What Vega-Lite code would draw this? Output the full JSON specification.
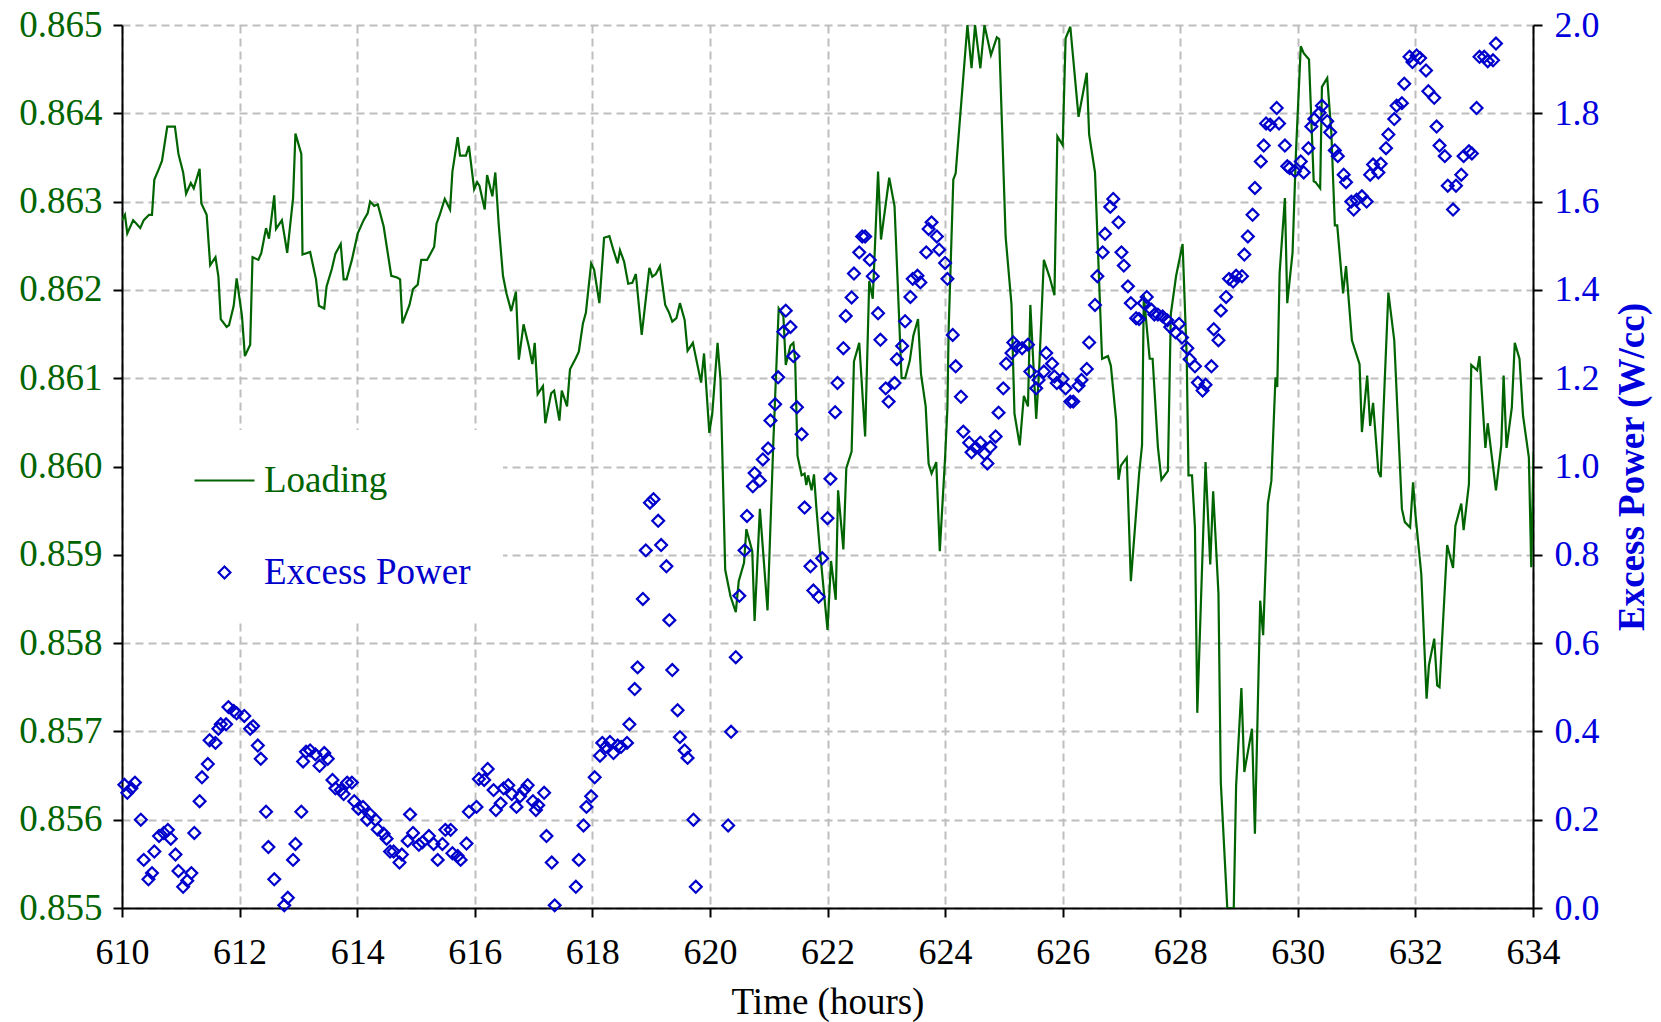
{
  "$schema": "https://vega.github.io/schema/vega-lite/v6.json",
  "width": 1411,
  "height": 883,
  "autosize": {"type": "none"},
  "padding": {"left": 122, "top": 25, "right": 128, "bottom": 114},
  "background": "white",
  "config": {"view": {"stroke": null}, "font": "Liberation Serif"},
  "datasets": {
    "loading": [
      {"t":610.00,"v":0.86279},{"t":610.05,"v":0.86285},{"t":610.09,"v":0.86264},{"t":610.19,"v":0.86279},{"t":610.31,"v":0.8627},{"t":610.37,"v":0.86279},{"t":610.46,"v":0.86285},{"t":610.51,"v":0.86285},{"t":610.55,"v":0.86325},{"t":610.62,"v":0.86336},{"t":610.68,"v":0.86346},{"t":610.77,"v":0.86385},{"t":610.90,"v":0.86385},{"t":610.96,"v":0.86354},{"t":611.04,"v":0.86333},{"t":611.09,"v":0.86309},{"t":611.17,"v":0.86321},{"t":611.22,"v":0.86315},{"t":611.32,"v":0.86337},{"t":611.35,"v":0.86298},{"t":611.44,"v":0.86285},{"t":611.50,"v":0.86228},{"t":611.59,"v":0.86237},{"t":611.64,"v":0.86215},{"t":611.68,"v":0.86167},{"t":611.78,"v":0.86158},{"t":611.82,"v":0.8616},{"t":611.90,"v":0.86182},{"t":611.95,"v":0.86213},{"t":612.04,"v":0.86171},{"t":612.09,"v":0.86125},{"t":612.18,"v":0.86138},{"t":612.22,"v":0.86237},{"t":612.32,"v":0.86234},{"t":612.37,"v":0.86242},{"t":612.45,"v":0.8627},{"t":612.50,"v":0.86258},{"t":612.59,"v":0.86307},{"t":612.62,"v":0.86269},{"t":612.72,"v":0.86279},{"t":612.81,"v":0.86242},{"t":612.91,"v":0.86304},{"t":612.95,"v":0.86377},{"t":613.05,"v":0.86354},{"t":613.07,"v":0.8624},{"t":613.20,"v":0.86243},{"t":613.30,"v":0.86212},{"t":613.35,"v":0.86182},{"t":613.44,"v":0.86179},{"t":613.48,"v":0.86204},{"t":613.57,"v":0.86224},{"t":613.63,"v":0.86241},{"t":613.72,"v":0.86252},{"t":613.77,"v":0.86212},{"t":613.82,"v":0.86212},{"t":613.91,"v":0.86234},{"t":614.01,"v":0.86264},{"t":614.11,"v":0.86279},{"t":614.18,"v":0.86287},{"t":614.22,"v":0.863},{"t":614.29,"v":0.86295},{"t":614.35,"v":0.86297},{"t":614.45,"v":0.86272},{"t":614.58,"v":0.86216},{"t":614.68,"v":0.86214},{"t":614.73,"v":0.86212},{"t":614.77,"v":0.86162},{"t":614.89,"v":0.86183},{"t":614.95,"v":0.86201},{"t":615.03,"v":0.86206},{"t":615.09,"v":0.86234},{"t":615.19,"v":0.86234},{"t":615.24,"v":0.8624},{"t":615.31,"v":0.86249},{"t":615.35,"v":0.86275},{"t":615.40,"v":0.86284},{"t":615.49,"v":0.86303},{"t":615.58,"v":0.86291},{"t":615.62,"v":0.86334},{"t":615.71,"v":0.86373},{"t":615.75,"v":0.86352},{"t":615.85,"v":0.86352},{"t":615.90,"v":0.86363},{"t":615.99,"v":0.86314},{"t":616.04,"v":0.86322},{"t":616.08,"v":0.86318},{"t":616.17,"v":0.86291},{"t":616.21,"v":0.8633},{"t":616.30,"v":0.86306},{"t":616.35,"v":0.86333},{"t":616.41,"v":0.86272},{"t":616.48,"v":0.86216},{"t":616.54,"v":0.86196},{"t":616.62,"v":0.86176},{"t":616.70,"v":0.86198},{"t":616.75,"v":0.86121},{"t":616.83,"v":0.86161},{"t":616.92,"v":0.86136},{"t":616.98,"v":0.86116},{"t":617.02,"v":0.8614},{"t":617.07,"v":0.86082},{"t":617.16,"v":0.86091},{"t":617.20,"v":0.86049},{"t":617.30,"v":0.86083},{"t":617.35,"v":0.86086},{"t":617.44,"v":0.86052},{"t":617.48,"v":0.86086},{"t":617.57,"v":0.86068},{"t":617.62,"v":0.8611},{"t":617.72,"v":0.86123},{"t":617.77,"v":0.8613},{"t":617.84,"v":0.86162},{"t":617.89,"v":0.86174},{"t":617.98,"v":0.8623},{"t":618.03,"v":0.86223},{"t":618.12,"v":0.86185},{"t":618.20,"v":0.86259},{"t":618.29,"v":0.86261},{"t":618.35,"v":0.86247},{"t":618.43,"v":0.8623},{"t":618.47,"v":0.86245},{"t":618.54,"v":0.86232},{"t":618.61,"v":0.86207},{"t":618.68,"v":0.86208},{"t":618.74,"v":0.86218},{"t":618.84,"v":0.86149},{"t":618.97,"v":0.86225},{"t":619.02,"v":0.86215},{"t":619.08,"v":0.86218},{"t":619.15,"v":0.86227},{"t":619.24,"v":0.86183},{"t":619.30,"v":0.86175},{"t":619.36,"v":0.86164},{"t":619.43,"v":0.86168},{"t":619.49,"v":0.86185},{"t":619.57,"v":0.86166},{"t":619.62,"v":0.86131},{"t":619.71,"v":0.8614},{"t":619.85,"v":0.86095},{"t":619.90,"v":0.86128},{"t":619.99,"v":0.86038},{"t":620.04,"v":0.8606},{"t":620.13,"v":0.8614},{"t":620.18,"v":0.86098},{"t":620.26,"v":0.85883},{"t":620.35,"v":0.85853},{"t":620.44,"v":0.85835},{"t":620.49,"v":0.8587},{"t":620.58,"v":0.85891},{"t":620.62,"v":0.85929},{"t":620.72,"v":0.85904},{"t":620.76,"v":0.85825},{"t":620.85,"v":0.85952},{"t":620.98,"v":0.85837},{"t":621.08,"v":0.8603},{"t":621.17,"v":0.86179},{"t":621.25,"v":0.8617},{"t":621.29,"v":0.86115},{"t":621.37,"v":0.86137},{"t":621.42,"v":0.8614},{"t":621.45,"v":0.8612},{"t":621.49,"v":0.86012},{"t":621.56,"v":0.8599},{"t":621.61,"v":0.85992},{"t":621.64,"v":0.85979},{"t":621.67,"v":0.8599},{"t":621.73,"v":0.85973},{"t":621.77,"v":0.85991},{"t":621.81,"v":0.85954},{"t":621.87,"v":0.85906},{"t":622.00,"v":0.85815},{"t":622.06,"v":0.85893},{"t":622.14,"v":0.85849},{"t":622.18,"v":0.85973},{"t":622.27,"v":0.85906},{"t":622.32,"v":0.85998},{"t":622.41,"v":0.86017},{"t":622.45,"v":0.86119},{"t":622.54,"v":0.8614},{"t":622.64,"v":0.86034},{"t":622.71,"v":0.8621},{"t":622.77,"v":0.8619},{"t":622.86,"v":0.86334},{"t":622.91,"v":0.86257},{"t":623.05,"v":0.86327},{"t":623.14,"v":0.86295},{"t":623.26,"v":0.861},{"t":623.32,"v":0.861},{"t":623.40,"v":0.8612},{"t":623.46,"v":0.86148},{"t":623.54,"v":0.86167},{"t":623.59,"v":0.86105},{"t":623.67,"v":0.86068},{"t":623.72,"v":0.86003},{"t":623.77,"v":0.85992},{"t":623.85,"v":0.86005},{"t":623.91,"v":0.85904},{"t":624.00,"v":0.8601},{"t":624.04,"v":0.86067},{"t":624.06,"v":0.86154},{"t":624.14,"v":0.86325},{"t":624.18,"v":0.86332},{"t":624.38,"v":0.865},{"t":624.45,"v":0.86451},{"t":624.51,"v":0.865},{"t":624.60,"v":0.86451},{"t":624.67,"v":0.865},{"t":624.78,"v":0.86466},{"t":624.88,"v":0.86486},{"t":624.92,"v":0.86484},{"t":625.03,"v":0.8626},{"t":625.13,"v":0.86183},{"t":625.18,"v":0.8606},{"t":625.27,"v":0.86024},{"t":625.34,"v":0.8608},{"t":625.41,"v":0.86068},{"t":625.45,"v":0.86183},{"t":625.55,"v":0.86054},{"t":625.60,"v":0.8611},{"t":625.68,"v":0.86234},{"t":625.78,"v":0.86214},{"t":625.86,"v":0.86194},{"t":625.91,"v":0.86374},{"t":626.00,"v":0.86364},{"t":626.05,"v":0.86485},{"t":626.13,"v":0.86498},{"t":626.27,"v":0.86396},{"t":626.41,"v":0.86446},{"t":626.45,"v":0.86376},{"t":626.55,"v":0.86333},{"t":626.67,"v":0.86122},{"t":626.77,"v":0.86125},{"t":626.82,"v":0.86114},{"t":626.91,"v":0.86052},{"t":626.95,"v":0.85985},{"t":626.99,"v":0.86001},{"t":627.09,"v":0.8601},{"t":627.16,"v":0.8587},{"t":627.30,"v":0.85992},{"t":627.35,"v":0.86024},{"t":627.38,"v":0.86194},{"t":627.48,"v":0.86122},{"t":627.53,"v":0.86122},{"t":627.62,"v":0.86022},{"t":627.68,"v":0.85985},{"t":627.79,"v":0.85995},{"t":627.84,"v":0.86173},{"t":627.93,"v":0.86216},{"t":628.04,"v":0.86252},{"t":628.11,"v":0.86124},{"t":628.14,"v":0.8599},{"t":628.20,"v":0.8599},{"t":628.25,"v":0.85931},{"t":628.29,"v":0.85721},{"t":628.43,"v":0.86005},{"t":628.51,"v":0.85889},{"t":628.56,"v":0.85972},{"t":628.65,"v":0.85856},{"t":628.69,"v":0.85642},{"t":628.80,"v":0.855},{"t":628.91,"v":0.855},{"t":628.95,"v":0.85638},{"t":629.04,"v":0.85749},{"t":629.09,"v":0.85654},{"t":629.22,"v":0.85703},{"t":629.27,"v":0.85584},{"t":629.36,"v":0.85848},{"t":629.41,"v":0.85809},{"t":629.49,"v":0.85958},{"t":629.55,"v":0.85984},{"t":629.62,"v":0.86101},{"t":629.65,"v":0.8609},{"t":629.69,"v":0.86219},{"t":629.78,"v":0.86304},{"t":629.82,"v":0.86185},{"t":629.91,"v":0.86242},{"t":629.97,"v":0.86359},{"t":630.05,"v":0.86476},{"t":630.10,"v":0.86468},{"t":630.19,"v":0.86461},{"t":630.27,"v":0.86323},{"t":630.30,"v":0.86322},{"t":630.38,"v":0.86315},{"t":630.41,"v":0.8643},{"t":630.50,"v":0.8644},{"t":630.57,"v":0.86378},{"t":630.63,"v":0.86273},{"t":630.67,"v":0.86273},{"t":630.77,"v":0.86196},{"t":630.82,"v":0.86227},{"t":630.92,"v":0.86143},{"t":631.05,"v":0.86116},{"t":631.09,"v":0.86039},{"t":631.18,"v":0.86103},{"t":631.23,"v":0.86046},{"t":631.28,"v":0.86072},{"t":631.37,"v":0.85994},{"t":631.41,"v":0.85988},{"t":631.54,"v":0.86197},{"t":631.64,"v":0.86143},{"t":631.77,"v":0.85952},{"t":631.82,"v":0.85937},{"t":631.91,"v":0.85931},{"t":631.96,"v":0.85982},{"t":632.00,"v":0.85946},{"t":632.10,"v":0.85878},{"t":632.19,"v":0.85737},{"t":632.23,"v":0.85775},{"t":632.32,"v":0.85805},{"t":632.37,"v":0.85752},{"t":632.41,"v":0.8575},{"t":632.54,"v":0.85911},{"t":632.64,"v":0.85885},{"t":632.68,"v":0.85933},{"t":632.78,"v":0.85958},{"t":632.82,"v":0.85928},{"t":632.91,"v":0.8598},{"t":632.95,"v":0.86115},{"t":633.05,"v":0.86109},{"t":633.09,"v":0.86125},{"t":633.19,"v":0.86021},{"t":633.23,"v":0.86049},{"t":633.37,"v":0.85973},{"t":633.46,"v":0.86024},{"t":633.50,"v":0.86103},{"t":633.55,"v":0.86021},{"t":633.64,"v":0.86067},{"t":633.69,"v":0.8614},{"t":633.77,"v":0.86122},{"t":633.83,"v":0.86058},{"t":633.93,"v":0.8601},{"t":633.97,"v":0.85886},{"t":634.01,"v":0.86017}
    ],
    "power": [
      {"t":610.04,"v":0.279},{"t":610.09,"v":0.261},{"t":610.16,"v":0.271},{"t":610.22,"v":0.284},{"t":610.32,"v":0.2},{"t":610.37,"v":0.109},{"t":610.45,"v":0.065},{"t":610.51,"v":0.079},{"t":610.55,"v":0.128},{"t":610.63,"v":0.163},{"t":610.71,"v":0.17},{"t":610.78,"v":0.177},{"t":610.83,"v":0.157},{"t":610.91,"v":0.121},{"t":610.96,"v":0.084},{"t":611.04,"v":0.048},{"t":611.11,"v":0.062},{"t":611.18,"v":0.079},{"t":611.23,"v":0.17},{"t":611.32,"v":0.242},{"t":611.36,"v":0.296},{"t":611.46,"v":0.326},{"t":611.49,"v":0.38},{"t":611.59,"v":0.374},{"t":611.64,"v":0.406},{"t":611.68,"v":0.416},{"t":611.77,"v":0.416},{"t":611.81,"v":0.455},{"t":611.90,"v":0.446},{"t":611.95,"v":0.441},{"t":612.08,"v":0.435},{"t":612.18,"v":0.406},{"t":612.23,"v":0.412},{"t":612.31,"v":0.368},{"t":612.36,"v":0.338},{"t":612.45,"v":0.218},{"t":612.49,"v":0.138},{"t":612.59,"v":0.065},{"t":612.76,"v":0.006},{"t":612.82,"v":0.023},{"t":612.91,"v":0.109},{"t":612.95,"v":0.145},{"t":613.05,"v":0.218},{"t":613.08,"v":0.332},{"t":613.13,"v":0.354},{"t":613.20,"v":0.357},{"t":613.29,"v":0.348},{"t":613.36,"v":0.322},{"t":613.44,"v":0.351},{"t":613.50,"v":0.338},{"t":613.58,"v":0.29},{"t":613.63,"v":0.271},{"t":613.72,"v":0.267},{"t":613.77,"v":0.258},{"t":613.83,"v":0.284},{"t":613.91,"v":0.284},{"t":613.95,"v":0.242},{"t":614.02,"v":0.225},{"t":614.10,"v":0.229},{"t":614.17,"v":0.2},{"t":614.22,"v":0.212},{"t":614.31,"v":0.2},{"t":614.35,"v":0.178},{"t":614.45,"v":0.168},{"t":614.50,"v":0.157},{"t":614.56,"v":0.128},{"t":614.62,"v":0.128},{"t":614.72,"v":0.103},{"t":614.76,"v":0.121},{"t":614.86,"v":0.152},{"t":614.90,"v":0.212},{"t":614.95,"v":0.17},{"t":615.05,"v":0.143},{"t":615.11,"v":0.149},{"t":615.22,"v":0.163},{"t":615.30,"v":0.145},{"t":615.37,"v":0.109},{"t":615.45,"v":0.145},{"t":615.50,"v":0.177},{"t":615.59,"v":0.177},{"t":615.62,"v":0.124},{"t":615.71,"v":0.118},{"t":615.76,"v":0.109},{"t":615.86,"v":0.146},{"t":615.90,"v":0.218},{"t":616.03,"v":0.229},{"t":616.07,"v":0.292},{"t":616.16,"v":0.29},{"t":616.22,"v":0.315},{"t":616.32,"v":0.267},{"t":616.36,"v":0.222},{"t":616.44,"v":0.237},{"t":616.49,"v":0.271},{"t":616.57,"v":0.278},{"t":616.63,"v":0.258},{"t":616.71,"v":0.229},{"t":616.77,"v":0.253},{"t":616.84,"v":0.267},{"t":616.90,"v":0.278},{"t":616.99,"v":0.242},{"t":617.04,"v":0.222},{"t":617.08,"v":0.233},{"t":617.18,"v":0.261},{"t":617.22,"v":0.163},{"t":617.31,"v":0.103},{"t":617.36,"v":0.006},{"t":617.72,"v":0.048},{"t":617.77,"v":0.109},{"t":617.85,"v":0.187},{"t":617.90,"v":0.229},{"t":617.98,"v":0.253},{"t":618.04,"v":0.296},{"t":618.13,"v":0.345},{"t":618.17,"v":0.374},{"t":618.23,"v":0.365},{"t":618.30,"v":0.376},{"t":618.36,"v":0.351},{"t":618.43,"v":0.368},{"t":618.49,"v":0.365},{"t":618.59,"v":0.374},{"t":618.63,"v":0.416},{"t":618.72,"v":0.496},{"t":618.77,"v":0.545},{"t":618.86,"v":0.7},{"t":618.91,"v":0.81},{"t":618.98,"v":0.918},{"t":619.04,"v":0.926},{"t":619.12,"v":0.877},{"t":619.17,"v":0.822},{"t":619.26,"v":0.774},{"t":619.31,"v":0.652},{"t":619.36,"v":0.539},{"t":619.45,"v":0.448},{"t":619.49,"v":0.387},{"t":619.57,"v":0.357},{"t":619.62,"v":0.34},{"t":619.72,"v":0.2},{"t":619.76,"v":0.048},{"t":620.31,"v":0.187},{"t":620.36,"v":0.399},{"t":620.44,"v":0.568},{"t":620.50,"v":0.707},{"t":620.59,"v":0.81},{"t":620.63,"v":0.888},{"t":620.73,"v":0.955},{"t":620.76,"v":0.985},{"t":620.85,"v":0.968},{"t":620.90,"v":1.016},{"t":620.99,"v":1.041},{"t":621.03,"v":1.104},{"t":621.11,"v":1.141},{"t":621.16,"v":1.202},{"t":621.25,"v":1.305},{"t":621.29,"v":1.353},{"t":621.37,"v":1.316},{"t":621.42,"v":1.25},{"t":621.48,"v":1.134},{"t":621.56,"v":1.073},{"t":621.61,"v":0.907},{"t":621.71,"v":0.774},{"t":621.76,"v":0.719},{"t":621.85,"v":0.705},{"t":621.91,"v":0.792},{"t":622.00,"v":0.883},{"t":622.05,"v":0.972},{"t":622.13,"v":1.123},{"t":622.17,"v":1.189},{"t":622.27,"v":1.268},{"t":622.31,"v":1.341},{"t":622.41,"v":1.383},{"t":622.45,"v":1.437},{"t":622.54,"v":1.485},{"t":622.59,"v":1.521},{"t":622.64,"v":1.521},{"t":622.72,"v":1.468},{"t":622.77,"v":1.431},{"t":622.86,"v":1.347},{"t":622.90,"v":1.287},{"t":622.99,"v":1.177},{"t":623.04,"v":1.147},{"t":623.14,"v":1.189},{"t":623.18,"v":1.243},{"t":623.27,"v":1.273},{"t":623.32,"v":1.329},{"t":623.41,"v":1.384},{"t":623.45,"v":1.425},{"t":623.53,"v":1.432},{"t":623.58,"v":1.417},{"t":623.68,"v":1.485},{"t":623.72,"v":1.538},{"t":623.77,"v":1.553},{"t":623.86,"v":1.521},{"t":623.90,"v":1.491},{"t":624.00,"v":1.461},{"t":624.04,"v":1.425},{"t":624.13,"v":1.298},{"t":624.18,"v":1.227},{"t":624.27,"v":1.158},{"t":624.31,"v":1.079},{"t":624.41,"v":1.054},{"t":624.45,"v":1.032},{"t":624.52,"v":1.043},{"t":624.60,"v":1.054},{"t":624.67,"v":1.029},{"t":624.72,"v":1.007},{"t":624.77,"v":1.044},{"t":624.86,"v":1.068},{"t":624.91,"v":1.122},{"t":624.99,"v":1.177},{"t":625.04,"v":1.233},{"t":625.13,"v":1.257},{"t":625.16,"v":1.281},{"t":625.22,"v":1.272},{"t":625.31,"v":1.268},{"t":625.41,"v":1.276},{"t":625.45,"v":1.215},{"t":625.55,"v":1.177},{"t":625.59,"v":1.196},{"t":625.68,"v":1.215},{"t":625.72,"v":1.257},{"t":625.82,"v":1.233},{"t":625.86,"v":1.204},{"t":625.90,"v":1.189},{"t":626.00,"v":1.198},{"t":626.05,"v":1.177},{"t":626.13,"v":1.147},{"t":626.18,"v":1.147},{"t":626.27,"v":1.183},{"t":626.32,"v":1.196},{"t":626.41,"v":1.221},{"t":626.45,"v":1.281},{"t":626.55,"v":1.366},{"t":626.59,"v":1.431},{"t":626.68,"v":1.485},{"t":626.72,"v":1.527},{"t":626.81,"v":1.588},{"t":626.86,"v":1.606},{"t":626.95,"v":1.553},{"t":627.00,"v":1.485},{"t":627.04,"v":1.455},{"t":627.11,"v":1.408},{"t":627.16,"v":1.37},{"t":627.25,"v":1.336},{"t":627.30,"v":1.334},{"t":627.38,"v":1.37},{"t":627.43,"v":1.384},{"t":627.51,"v":1.355},{"t":627.56,"v":1.344},{"t":627.62,"v":1.344},{"t":627.70,"v":1.34},{"t":627.78,"v":1.331},{"t":627.83,"v":1.316},{"t":627.92,"v":1.304},{"t":627.98,"v":1.323},{"t":628.03,"v":1.292},{"t":628.12,"v":1.268},{"t":628.16,"v":1.243},{"t":628.25,"v":1.227},{"t":628.30,"v":1.19},{"t":628.38,"v":1.172},{"t":628.43,"v":1.185},{"t":628.53,"v":1.227},{"t":628.57,"v":1.311},{"t":628.65,"v":1.286},{"t":628.69,"v":1.353},{"t":628.78,"v":1.384},{"t":628.83,"v":1.425},{"t":628.90,"v":1.419},{"t":628.95,"v":1.432},{"t":629.05,"v":1.431},{"t":629.09,"v":1.48},{"t":629.15,"v":1.521},{"t":629.23,"v":1.57},{"t":629.27,"v":1.631},{"t":629.37,"v":1.691},{"t":629.42,"v":1.727},{"t":629.46,"v":1.777},{"t":629.53,"v":1.774},{"t":629.64,"v":1.812},{"t":629.68,"v":1.777},{"t":629.78,"v":1.727},{"t":629.82,"v":1.68},{"t":629.86,"v":1.676},{"t":629.95,"v":1.669},{"t":630.05,"v":1.691},{"t":630.10,"v":1.666},{"t":630.18,"v":1.721},{"t":630.23,"v":1.77},{"t":630.28,"v":1.787},{"t":630.37,"v":1.801},{"t":630.41,"v":1.817},{"t":630.50,"v":1.782},{"t":630.55,"v":1.757},{"t":630.63,"v":1.716},{"t":630.68,"v":1.703},{"t":630.78,"v":1.661},{"t":630.82,"v":1.644},{"t":630.91,"v":1.6},{"t":630.95,"v":1.582},{"t":631.00,"v":1.604},{"t":631.09,"v":1.612},{"t":631.17,"v":1.6},{"t":631.23,"v":1.661},{"t":631.28,"v":1.684},{"t":631.37,"v":1.666},{"t":631.41,"v":1.686},{"t":631.50,"v":1.721},{"t":631.54,"v":1.752},{"t":631.64,"v":1.787},{"t":631.68,"v":1.817},{"t":631.77,"v":1.823},{"t":631.81,"v":1.867},{"t":631.90,"v":1.928},{"t":631.95,"v":1.916},{"t":632.02,"v":1.931},{"t":632.08,"v":1.925},{"t":632.18,"v":1.897},{"t":632.22,"v":1.85},{"t":632.32,"v":1.835},{"t":632.36,"v":1.77},{"t":632.41,"v":1.727},{"t":632.50,"v":1.703},{"t":632.55,"v":1.636},{"t":632.64,"v":1.582},{"t":632.69,"v":1.636},{"t":632.78,"v":1.661},{"t":632.82,"v":1.703},{"t":632.91,"v":1.714},{"t":632.96,"v":1.709},{"t":633.04,"v":1.812},{"t":633.09,"v":1.928},{"t":633.17,"v":1.928},{"t":633.23,"v":1.918},{"t":633.32,"v":1.92},{"t":633.37,"v":1.958}
    ]
  },
  "layer": [
    {
      "data": {"name": "loading"},
      "mark": {"type": "line", "strokeWidth": 2.2, "clip": true},
      "encoding": {
        "x": {"field": "t", "type": "quantitative",
          "scale": {"domain": [610, 634], "nice": false, "zero": false},
          "axis": {"values": [610,612,614,616,618,620,622,624,626,628,630,632,634], "format": "d", "title": "Time (hours)",
            "labelFont": "Liberation Serif", "labelFontSize": 36, "labelColor": "black", "labelPadding": 18, "labelFlush": false,
            "titleFont": "Liberation Serif", "titleFontSize": 37, "titleFontWeight": "normal", "titleColor": "black", "titlePadding": 14,
            "grid": true, "gridColor": "#BEBEBE", "gridDash": [8, 5], "gridWidth": 2,
            "domainColor": "black", "domainWidth": 2, "tickColor": "black", "tickWidth": 2, "tickSize": 9}},
        "y": {"field": "v", "type": "quantitative",
          "scale": {"domain": [0.855, 0.865], "nice": false, "zero": false},
          "axis": {"orient": "left", "values": [0.855,0.856,0.857,0.858,0.859,0.86,0.861,0.862,0.863,0.864,0.865], "format": ".3f", "title": null,
            "labelFont": "Liberation Serif", "labelFontSize": 37, "labelColor": "#006400", "labelPadding": 11,
            "grid": true, "gridColor": "#BEBEBE", "gridDash": [8, 5], "gridWidth": 2,
            "domainColor": "black", "domainWidth": 2, "tickColor": "black", "tickWidth": 2, "tickSize": 9}},
        "color": {"datum": "Loading", "type": "nominal",
          "scale": {"domain": ["Loading", "Excess Power"], "range": ["#006400", "#0000CC"]},
          "legend": {"orient": "none", "legendX": 2, "legendY": 405, "title": null, "fillColor": "white", "padding": 32, "symbolOffset": 50,
            "labelFont": "Liberation Serif", "labelFontSize": 37, "labelOffset": 21, "labelLimit": 500, "symbolSize": 3600, "symbolStrokeWidth": 2, "rowPadding": 54,
            "encode": {
              "symbols": {"update": {"shape": {"signal": "datum.value === 'Loading' ? 'stroke' : 'diamond'"}, "size": {"signal": "datum.value === 'Loading' ? 3600 : 140"}, "fill": {"value": "transparent"}, "stroke": {"signal": "datum.value === 'Loading' ? '#006400' : '#0000CC'"}, "strokeWidth": {"value": 2.2}, "opacity": {"value": 1}}},
              "labels": {"update": {"fill": {"signal": "datum.value === 'Loading' ? '#006400' : '#0000CC'"}}}
            }}}
      }
    },
    {
      "data": {"name": "power"},
      "mark": {"type": "point", "shape": "diamond", "filled": false, "size": 140, "strokeWidth": 2.2, "opacity": 1},
      "encoding": {
        "x": {"field": "t", "type": "quantitative", "scale": {"domain": [610, 634], "nice": false, "zero": false}},
        "y": {"field": "v", "type": "quantitative",
          "scale": {"domain": [0, 2], "nice": false, "zero": false},
          "axis": {"orient": "right", "values": [0,0.2,0.4,0.6,0.8,1,1.2,1.4,1.6,1.8,2], "format": ".1f", "title": "Excess Power (W/cc)",
            "labelFont": "Liberation Serif", "labelFontSize": 36, "labelColor": "#0000DD", "labelPadding": 12,
            "titleFont": "Liberation Serif", "titleFontSize": 37, "titleFontWeight": "bold", "titleColor": "#0000DD", "titleAngle": 270, "titleBaseline": "top", "titlePadding": 15,
            "grid": false, "domainColor": "black", "domainWidth": 2, "tickColor": "black", "tickWidth": 2, "tickSize": 9}},
        "color": {"datum": "Excess Power", "type": "nominal",
          "scale": {"domain": ["Loading", "Excess Power"], "range": ["#006400", "#0000CC"]},
          "legend": {"orient": "none", "legendX": 2, "legendY": 405, "title": null, "fillColor": "white", "padding": 32, "symbolOffset": 50,
            "labelFont": "Liberation Serif", "labelFontSize": 37, "labelOffset": 21, "labelLimit": 500, "symbolSize": 3600, "symbolStrokeWidth": 2, "rowPadding": 54,
            "encode": {
              "symbols": {"update": {"shape": {"signal": "datum.value === 'Loading' ? 'stroke' : 'diamond'"}, "size": {"signal": "datum.value === 'Loading' ? 3600 : 140"}, "fill": {"value": "transparent"}, "stroke": {"signal": "datum.value === 'Loading' ? '#006400' : '#0000CC'"}, "strokeWidth": {"value": 2.2}, "opacity": {"value": 1}}},
              "labels": {"update": {"fill": {"signal": "datum.value === 'Loading' ? '#006400' : '#0000CC'"}}}
            }}}
      }
    }
  ],
  "resolve": {"scale": {"y": "independent"}, "axis": {"y": "independent"}}
}
